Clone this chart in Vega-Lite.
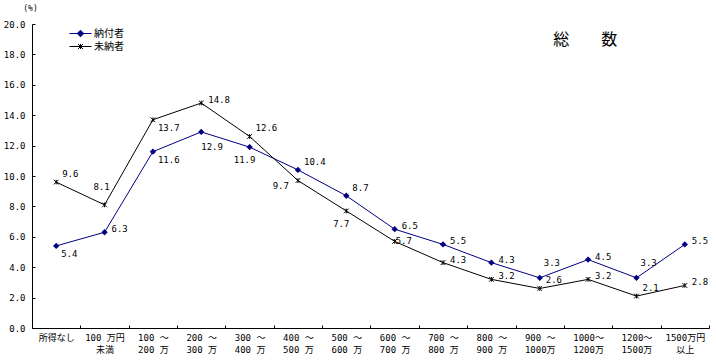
{
  "$schema": "https://vega.github.io/schema/vega-lite/v6.json",
  "width": 677,
  "height": 304,
  "autosize": {"type": "none"},
  "padding": {"left": 32, "top": 24, "right": 7, "bottom": 35},
  "background": "white",
  "config": {
    "view": {"stroke": null},
    "font": "Noto Sans CJK JP",
    "legend": {"padding": 0}
  },
  "title": {
    "text": "総　　数",
    "anchor": "start",
    "dx": 550,
    "offset": -44,
    "fontSize": 16,
    "fontWeight": "normal",
    "font": "Noto Sans CJK JP",
    "color": "#000"
  },
  "data": {
    "values": [
      {"i": 1, "c": "所得なし", "s": "納付者", "v": 5.4},
      {"i": 2, "c": "100 万円|未満", "s": "納付者", "v": 6.3},
      {"i": 3, "c": "100 ～|200 万", "s": "納付者", "v": 11.6},
      {"i": 4, "c": "200 ～|300 万", "s": "納付者", "v": 12.9},
      {"i": 5, "c": "300 ～|400 万", "s": "納付者", "v": 11.9},
      {"i": 6, "c": "400 ～|500 万", "s": "納付者", "v": 10.4},
      {"i": 7, "c": "500 ～|600 万", "s": "納付者", "v": 8.7},
      {"i": 8, "c": "600 ～|700 万", "s": "納付者", "v": 6.5},
      {"i": 9, "c": "700 ～|800 万", "s": "納付者", "v": 5.5},
      {"i": 10, "c": "800 ～|900 万", "s": "納付者", "v": 4.3},
      {"i": 11, "c": "900 ～|1000万", "s": "納付者", "v": 3.3},
      {"i": 12, "c": "1000～|1200万", "s": "納付者", "v": 4.5},
      {"i": 13, "c": "1200～|1500万", "s": "納付者", "v": 3.3},
      {"i": 14, "c": "1500万円|以上", "s": "納付者", "v": 5.5},
      {"i": 1, "c": "所得なし", "s": "未納者", "v": 9.6},
      {"i": 2, "c": "100 万円|未満", "s": "未納者", "v": 8.1},
      {"i": 3, "c": "100 ～|200 万", "s": "未納者", "v": 13.7},
      {"i": 4, "c": "200 ～|300 万", "s": "未納者", "v": 14.8},
      {"i": 5, "c": "300 ～|400 万", "s": "未納者", "v": 12.6},
      {"i": 6, "c": "400 ～|500 万", "s": "未納者", "v": 9.7},
      {"i": 7, "c": "500 ～|600 万", "s": "未納者", "v": 7.7},
      {"i": 8, "c": "600 ～|700 万", "s": "未納者", "v": 5.7},
      {"i": 9, "c": "700 ～|800 万", "s": "未納者", "v": 4.3},
      {"i": 10, "c": "800 ～|900 万", "s": "未納者", "v": 3.2},
      {"i": 11, "c": "900 ～|1000万", "s": "未納者", "v": 2.6},
      {"i": 12, "c": "1000～|1200万", "s": "未納者", "v": 3.2},
      {"i": 13, "c": "1200～|1500万", "s": "未納者", "v": 2.1},
      {"i": 14, "c": "1500万円|以上", "s": "未納者", "v": 2.8}
    ]
  },
  "encoding": {
    "x": {
      "field": "c",
      "type": "nominal",
      "sort": null,
      "scale": {"paddingInner": 0, "paddingOuter": 0},
      "axis": {
        "title": null,
        "labelAngle": 0,
        "tickBand": "extent",
        "tickSize": -3,
        "labelExpr": "split(datum.label, '|')",
        "labelFont": "DejaVu Sans Mono, Noto Sans CJK JP",
        "labelFontSize": 9,
        "labelLineHeight": 12,
        "labelPadding": 8,
        "labelBaseline": "top",
        "labelColor": "#000",
        "domainColor": "#000",
        "tickColor": "#000",
        "grid": false
      }
    },
    "y": {
      "field": "v",
      "type": "quantitative",
      "scale": {"domain": [0, 20]},
      "axis": {
        "values": [0, 2, 4, 6, 8, 10, 12, 14, 16, 18, 20],
        "format": ".1f",
        "grid": false,
        "domainColor": "#000",
        "tickColor": "#000",
        "tickSize": -3,
        "labelPadding": 10,
        "labelFont": "DejaVu Sans Mono",
        "labelFontSize": 9,
        "labelColor": "#000",
        "title": "(%)",
        "titleAngle": 0,
        "titleX": -2,
        "titleY": -16,
        "titleAlign": "center",
        "titleBaseline": "middle",
        "titleFontSize": 8,
        "titleFontWeight": "normal",
        "titleFont": "DejaVu Sans Mono",
        "titleColor": "#000"
      }
    }
  },
  "layer": [
    {
      "mark": {"type": "line", "strokeWidth": 1},
      "encoding": {
        "color": {
          "field": "s",
          "type": "nominal",
          "scale": {"domain": ["納付者", "未納者"], "range": ["#000080", "#000000"]},
          "legend": {
            "title": null,
            "orient": "none",
            "legendX": 43,
            "legendY": 4,
            "symbolType": "M-2.2,0L2.2,0",
            "symbolSize": 100,
            "symbolStrokeWidth": 1,
            "labelFont": "Noto Sans CJK JP",
            "labelFontSize": 10,
            "labelColor": "#000",
            "labelOffset": 8,
            "rowPadding": 2,
            "encode": {
              "symbols": {
                "update": {
                  "shape": {"signal": "datum.value === '納付者' ? 'M-2.2,0L2.2,0M0,-0.66L0.66,0L0,0.66L-0.66,0Z' : 'M-2.2,0L2.2,0M-0.5,-0.5L0.5,0.5M-0.5,0.5L0.5,-0.5M0,-0.5L0,0.5'"},
                  "fill": {"signal": "datum.value === '納付者' ? '#000080' : 'transparent'"},
                  "stroke": {"signal": "datum.value === '納付者' ? '#000080' : '#000000'"},
                  "strokeWidth": {"value": 1},
                  "opacity": {"value": 1}
                }
              }
            }
          }
        }
      }
    },
    {
      "transform": [{"filter": "datum.s == '納付者'"}],
      "mark": {"type": "point", "shape": "diamond", "filled": true, "size": 40, "color": "#000080", "opacity": 1},
      "encoding": {}
    },
    {
      "transform": [{"filter": "datum.s == '未納者'"}],
      "mark": {"type": "point", "shape": "M-1,-1L1,1M-1,1L1,-1M0,-1L0,1", "filled": false, "size": 22, "stroke": "#000000", "strokeWidth": 1, "opacity": 1},
      "encoding": {}
    },
    {
      "transform": [{"filter": "(datum.s == '未納者' && indexof([4, 9, 10, 12, 14], datum.i) >= 0) || (datum.s == '納付者' && indexof([2, 8, 9, 10, 12, 14], datum.i) >= 0)"}],
      "mark": {"type": "text", "align": "left", "baseline": "middle", "dx": 7, "dy": -3, "font": "DejaVu Sans Mono", "fontSize": 9, "color": "#000"},
      "encoding": {"text": {"field": "v", "type": "quantitative", "format": ".1f"}}
    },
    {
      "transform": [{"filter": "datum.s == '未納者' && datum.i == 8"}],
      "mark": {"type": "text", "align": "left", "baseline": "middle", "dx": 1, "dy": 0, "font": "DejaVu Sans Mono", "fontSize": 9, "color": "#000"},
      "encoding": {"text": {"field": "v", "type": "quantitative", "format": ".1f"}}
    },
    {
      "transform": [{"filter": "(datum.s == '未納者' && indexof([1, 5, 11, 13], datum.i) >= 0) || (datum.s == '納付者' && indexof([6, 7], datum.i) >= 0)"}],
      "mark": {"type": "text", "align": "left", "baseline": "middle", "dx": 6, "dy": -8, "font": "DejaVu Sans Mono", "fontSize": 9, "color": "#000"},
      "encoding": {"text": {"field": "v", "type": "quantitative", "format": ".1f"}}
    },
    {
      "transform": [{"filter": "(datum.s == '未納者' && datum.i == 3) || (datum.s == '納付者' && indexof([1, 3], datum.i) >= 0)"}],
      "mark": {"type": "text", "align": "left", "baseline": "middle", "dx": 5, "dy": 8, "font": "DejaVu Sans Mono", "fontSize": 9, "color": "#000"},
      "encoding": {"text": {"field": "v", "type": "quantitative", "format": ".1f"}}
    },
    {
      "transform": [{"filter": "(datum.s == '未納者' && datum.i == 7) || (datum.s == '納付者' && datum.i == 5)"}],
      "mark": {"type": "text", "align": "center", "baseline": "middle", "dx": -5, "dy": 13, "font": "DejaVu Sans Mono", "fontSize": 9, "color": "#000"},
      "encoding": {"text": {"field": "v", "type": "quantitative", "format": ".1f"}}
    },
    {
      "transform": [{"filter": "datum.s == '納付者' && datum.i == 4"}],
      "mark": {"type": "text", "align": "left", "baseline": "middle", "dx": 0, "dy": 15, "font": "DejaVu Sans Mono", "fontSize": 9, "color": "#000"},
      "encoding": {"text": {"field": "v", "type": "quantitative", "format": ".1f"}}
    },
    {
      "transform": [{"filter": "datum.s == '未納者' && datum.i == 6"}],
      "mark": {"type": "text", "align": "right", "baseline": "middle", "dx": -9, "dy": 5, "font": "DejaVu Sans Mono", "fontSize": 9, "color": "#000"},
      "encoding": {"text": {"field": "v", "type": "quantitative", "format": ".1f"}}
    },
    {
      "transform": [{"filter": "datum.s == '納付者' && indexof([11, 13], datum.i) >= 0"}],
      "mark": {"type": "text", "align": "left", "baseline": "middle", "dx": 4, "dy": -15, "font": "DejaVu Sans Mono", "fontSize": 9, "color": "#000"},
      "encoding": {"text": {"field": "v", "type": "quantitative", "format": ".1f"}}
    },
    {
      "transform": [{"filter": "datum.s == '未納者' && datum.i == 2"}],
      "mark": {"type": "text", "align": "center", "baseline": "middle", "dx": -3, "dy": -18, "font": "DejaVu Sans Mono", "fontSize": 9, "color": "#000"},
      "encoding": {"text": {"field": "v", "type": "quantitative", "format": ".1f"}}
    }
  ]
}
